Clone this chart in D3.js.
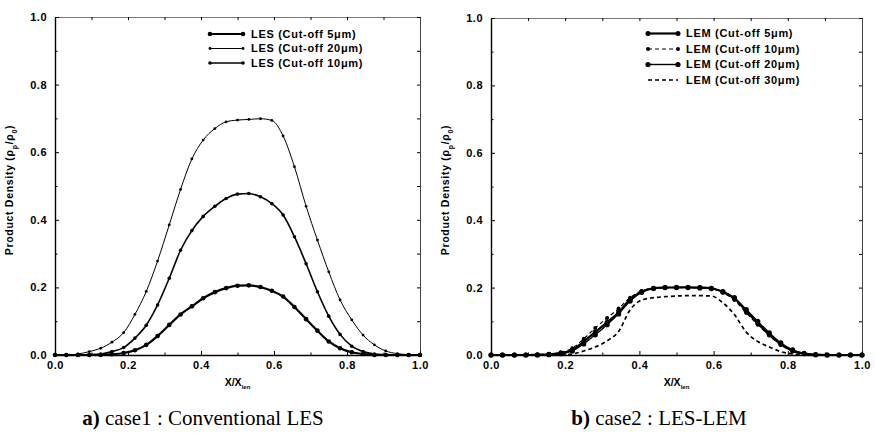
<!DOCTYPE html>
<html>
<head>
<meta charset="utf-8">
<script src="https://cdn.jsdelivr.net/npm/d3@7/dist/d3.min.js"></script>
<style>
  body { margin: 0; background: #fff; }
  svg { display: block; }
</style>
</head>
<body>
<script>
// posiciones X/X_len (33 puntos)
const xPos = [0, .031, .063, .094, .125, .156, .188, .219, .25, .281, .313, .344, .375, .406, .438, .469,
  .5, .531, .563, .594, .625, .656, .688, .719, .75, .781, .813, .844, .875, .906, .938, .969, 1];

// a) LES convencional
const les5 = [0, 0, 0, 0, 0, .002, .006, .014, .03, .056, .089, .12, .144, .168, .186, .198,
  .205, .206, .201, .19, .173, .142, .106, .072, .04, .02, .008, .003, 0, 0, 0, 0, 0];
const les20 = [0, 0, .003, .01, .02, .038, .066, .12, .188, .278, .385, .49, .58, .636, .67, .69,
  .695, .697, .699, .694, .648, .557, .44, .34, .246, .163, .104, .059, .03, .012, .004, .001, 0];
const les10 = [0, 0, 0, .001, .003, .01, .022, .05, .088, .148, .227, .31, .368, .41, .44, .463,
  .476, .478, .468, .448, .414, .35, .27, .187, .115, .061, .026, .01, .003, .001, 0, 0, 0];

// b) LES-LEM
const lem5 = [0, 0, 0, 0, .001, .002, .005, .015, .04, .068, .097, .127, .165, .188, .198, .2,
  .201, .201, .2, .198, .187, .168, .13, .094, .06, .032, .012, .004, .001, 0, 0, 0, 0];
const lem10 = [0, 0, 0, 0, .001, .003, .008, .02, .048, .08, .11, .138, .17, .19, .198, .2,
  .2, .2, .2, .197, .185, .163, .125, .09, .058, .03, .012, .004, .001, 0, 0, 0, 0];
const lem20 = [0, 0, 0, 0, 0, .001, .004, .012, .033, .06, .09, .122, .16, .186, .197, .2,
  .2, .2, .199, .197, .188, .17, .135, .1, .066, .036, .015, .005, .001, 0, 0, 0, 0];
const lem30 = [0, 0, 0, 0, 0, 0, 0, .003, .012, .024, .042, .07, .134, .163, .17, .173,
  .175, .176, .176, .175, .155, .12, .068, .04, .024, .01, .003, 0, 0, 0, 0, 0, 0];

const majorTicks = [0, 0.2, 0.4, 0.6, 0.8, 1.0];
const minorTicks = [0.1, 0.3, 0.5, 0.7, 0.9];

const lesLabels = ["LES (Cut-off 5\u03bcm)", "LES (Cut-off 20\u03bcm)", "LES (Cut-off 10\u03bcm)"];
const lemLabels = ["LEM (Cut-off 5\u03bcm)", "LEM (Cut-off 10\u03bcm)", "LEM (Cut-off 20\u03bcm)", "LEM (Cut-off 30\u03bcm)"];

const W = 875, H = 435;
const svg = d3.select("body").append("svg").attr("width", W).attr("height", H);

const sansFont = "'Liberation Sans', Arial, Helvetica, sans-serif";
const serifFont = "'Liberation Serif', 'DejaVu Serif', serif";

function drawPanel(box, series, legend, cap) {
    const x = d3.scaleLinear().domain([0, 1]).range([box.left, box.right]);
    const y = d3.scaleLinear().domain([0, 1]).range([box.bottom, box.top]);
    const g = svg.append("g");

    // marco superior y derecho
    g.append("g").attr("transform", "translate(0," + box.top + ")")
        .call(d3.axisTop(x).tickValues(majorTicks.concat(minorTicks)).tickSize(-3).tickSizeOuter(0).tickFormat(""))
        .call(s => s.select(".domain").attr("stroke", "#555").attr("stroke-width", 0.8));
    g.append("g").attr("transform", "translate(" + box.right + ",0)")
        .call(d3.axisRight(y).tickValues(majorTicks.concat(minorTicks)).tickSize(-3).tickSizeOuter(0).tickFormat(""))
        .call(s => s.select(".domain").attr("stroke", "#444").attr("stroke-width", 1));

    // ejes
    const ax = g.append("g").attr("transform", "translate(0," + box.bottom + ")")
        .call(d3.axisBottom(x).tickValues(majorTicks).tickSize(-4).tickSizeOuter(0).tickPadding(6).tickFormat(d3.format(".1f")));
    g.append("g").attr("transform", "translate(0," + box.bottom + ")")
        .call(d3.axisBottom(x).tickValues(minorTicks).tickSize(-2.5).tickSizeOuter(0).tickFormat(""))
        .call(s => s.select(".domain").remove());
    const ay = g.append("g").attr("transform", "translate(" + box.left + ",0)")
        .call(d3.axisLeft(y).tickValues(majorTicks).tickSize(-4).tickSizeOuter(0).tickPadding(8).tickFormat(d3.format(".1f")));
    g.append("g").attr("transform", "translate(" + box.left + ",0)")
        .call(d3.axisLeft(y).tickValues(minorTicks).tickSize(-2.5).tickSizeOuter(0).tickFormat(""))
        .call(s => s.select(".domain").remove());

    [ax, ay].forEach(a => {
        a.select(".domain").attr("stroke", "#000").attr("stroke-width", 1.4);
        a.selectAll("text").attr("font-family", sansFont).attr("font-size", 11)
            .attr("font-weight", "bold").attr("letter-spacing", 0.5).attr("fill", "#000");
    });

    // titulos de ejes
    const yt = g.append("text")
        .attr("transform", "translate(" + (box.left - 42) + "," + 190 + ") rotate(-90)")
        .attr("text-anchor", "middle").attr("font-family", sansFont).attr("font-size", 10.5)
        .attr("font-weight", "bold").attr("letter-spacing", 0.7);
    yt.append("tspan").text("Product Density (\u03c1");
    yt.append("tspan").attr("baseline-shift", "sub").attr("font-size", 7).text("p");
    yt.append("tspan").text("/\u03c1");
    yt.append("tspan").attr("baseline-shift", "sub").attr("font-size", 7).text("0");
    yt.append("tspan").text(")");

    const xt = g.append("text")
        .attr("x", (box.left + box.right) / 2).attr("y", 386)
        .attr("text-anchor", "middle").attr("font-family", sansFont).attr("font-size", 10.5)
        .attr("font-weight", "bold");
    xt.append("tspan").text("X/X");
    xt.append("tspan").attr("baseline-shift", "sub").attr("font-size", 6).text("len");

    // curvas
    const line = d3.line().x((d, i) => x(xPos[i])).y(d => y(d)).curve(d3.curveMonotoneX);
    series.forEach(s => {
        g.append("path").datum(s.values)
            .attr("fill", "none").attr("stroke", "#000")
            .attr("stroke-width", s.width)
            .attr("stroke-dasharray", s.dash || null)
            .attr("d", line);
        if (s.r) {
            g.selectAll(null).data(s.values).enter().append("circle")
                .attr("cx", (d, i) => x(xPos[i])).attr("cy", d => y(d))
                .attr("r", s.r).attr("fill", "#000");
        }
    });

    // leyenda
    legend.items.forEach((s, i) => {
        const ly = legend.y + i * legend.dy;
        g.append("line").attr("x1", legend.x1).attr("x2", legend.x2).attr("y1", ly).attr("y2", ly)
            .attr("stroke", "#000").attr("stroke-width", s.width).attr("stroke-dasharray", s.dash || null);
        if (s.r) {
            [legend.x1, legend.x2].forEach(lx => g.append("circle").attr("cx", lx).attr("cy", ly).attr("r", s.r).attr("fill", "#000"));
        }
        g.append("text").attr("x", legend.x2 + 8).attr("y", ly).attr("dy", "0.35em")
            .attr("font-family", sansFont).attr("font-size", 11).attr("font-weight", "bold")
            .attr("letter-spacing", 0.7).text(s.label);
    });

    // pie de figura
    const ct = g.append("text").attr("x", cap.x).attr("y", 425)
        .attr("text-anchor", "middle")
        .attr("font-family", serifFont).attr("font-size", 21);
    ct.append("tspan").attr("font-weight", "bold").text(cap.tag);
    ct.append("tspan").text(cap.text);
}

const seriesA = [
    { label: lesLabels[0], values: les5, width: 2.2, r: 2.3 },
    { label: lesLabels[1], values: les20, width: 1, r: 1.4 },
    { label: lesLabels[2], values: les10, width: 1.6, r: 1.8 }
];
const seriesB = [
    { label: lemLabels[0], values: lem5, width: 2.2, r: 2.5 },
    { label: lemLabels[1], values: lem10, width: 1.2, r: 2, dash: "4,3" },
    { label: lemLabels[2], values: lem20, width: 1.4, r: 2.6 },
    { label: lemLabels[3], values: lem30, width: 1.7, dash: "4,3" }
];

drawPanel({ left: 55, right: 420, top: 17, bottom: 355 }, seriesA,
    { items: seriesA, x1: 210, x2: 243, y: 34, dy: 14.5 },
    { x: 203, tag: "a)", text: " case1 : Conventional LES" });

drawPanel({ left: 491, right: 862, top: 18, bottom: 355 }, seriesB,
    { items: seriesB, x1: 648, x2: 678, y: 33.5, dy: 15.5 },
    { x: 659, tag: "b)", text: " case2 : LES-LEM" });
</script>
</body>
</html>
